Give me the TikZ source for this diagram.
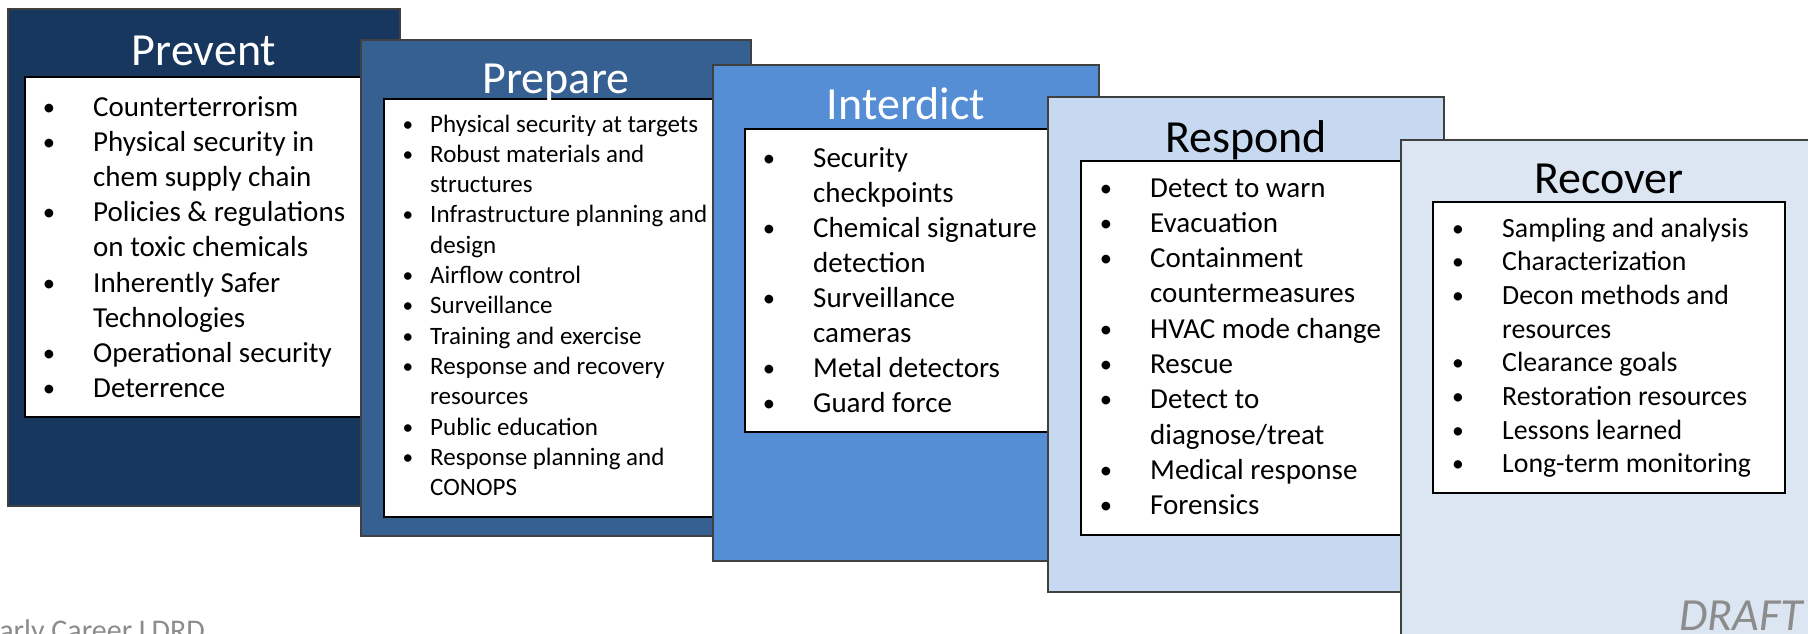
\documentclass[tikz,border=0pt]{standalone}
\usepackage{fontspec}
\setmainfont{Carlito}

% Phase colours
\definecolor{preventfill}{HTML}{17375E}
\definecolor{preparefill}{HTML}{376092}
\definecolor{interdictfill}{HTML}{558ED5}
\definecolor{respondfill}{HTML}{C6D9F1}
\definecolor{recoverfill}{HTML}{DCE6F2}
\definecolor{footgray}{HTML}{8C8C8C}

\tikzset{
  panel/.style={draw=black!75, line width=1.3pt},
  listbox/.style={draw=black, fill=white, line width=2.3pt},
  phase/.style={anchor=base, inner sep=0pt, font=\fontsize{46}{50}\selectfont},
  item/.style={anchor=base west, inner sep=0pt},
  dot/.style={anchor=base, inner sep=0pt, scale=0.85},
}

% #1 name, #2 bullet x, #3 text x, #4 first baseline, #5 line step, #6 font size, #7 lines
\newcommand{\drawitems}[7]{%
  \foreach \b/\t [count=\i from 0] in {#7} {
    \node[item, font=\fontsize{#6}{#6}\selectfont] (#1-\i) at (#3, #4+\i*#5) {\t};
    \ifnum\b>0
      \node[dot, font=\fontsize{#6}{#6}\selectfont] (#1-b\i) at (#2, #4+\i*#5-1) {\textbullet};
    \fi
  }
}

\begin{document}
\begin{tikzpicture}[x=1pt, y=-1pt]
    % Page size of the slide
    \clip (0,0) rectangle (1808,633);

    % Prevent
    \draw[panel, fill=preventfill] (8,9) rectangle (400,506);
    \draw[listbox] (25,77) rectangle (383,417);
    \node[phase, text=white] (prevent) at (204,65) {Prevent};
    \drawitems{prev}{49}{93}{116}{35.2}{29}{
      1/Counterterrorism, 1/Physical security in, 0/chem supply chain,
      1/Policies \& regulations, 0/on toxic chemicals, 1/Inherently Safer,
      0/Technologies, 1/Operational security, 1/Deterrence}

    % Prepare
    \draw[panel, fill=preparefill] (361,40) rectangle (751,536);
    \draw[listbox] (384,99) rectangle (728,517);
    \node[phase, text=white] (prepare) at (556,93) {Prepare};
    \drawitems{prep}{408}{430}{132}{30.3}{25}{
      1/Physical security at targets, 1/Robust materials and, 0/structures,
      1/Infrastructure planning and, 0/design, 1/Airflow control,
      1/Surveillance, 1/Training and exercise, 1/Response and recovery,
      0/resources, 1/Public education, 1/Response planning and, 0/CONOPS}

    % Interdict
    \draw[panel, fill=interdictfill] (713,65) rectangle (1099,561);
    \draw[listbox] (745,129) rectangle (1067,432);
    \node[phase, text=white] (interdict) at (906,119) {Interdict};
    \drawitems{inter}{769}{813}{167}{35.1}{29}{
      1/Security, 0/checkpoints, 1/Chemical signature, 0/detection,
      1/Surveillance, 0/cameras, 1/Metal detectors, 1/Guard force}

    % Respond
    \draw[panel, fill=respondfill] (1048,97) rectangle (1444,592);
    \draw[listbox] (1081,161) rectangle (1411,535);
    \node[phase, text=black] (respond) at (1246,152) {Respond};
    \drawitems{resp}{1106}{1150}{197}{35.3}{29}{
      1/Detect to warn, 1/Evacuation, 1/Containment, 0/countermeasures,
      1/HVAC mode change, 1/Rescue, 1/Detect to, 0/{diagnose/treat},
      1/Medical response, 1/Forensics}

    % Recover
    \draw[panel, fill=recoverfill] (1401,140) rectangle (1817,660);
    \draw[listbox] (1433,202) rectangle (1785,493);
    \node[phase, text=black] (recover) at (1609,193) {Recover};
    \drawitems{reco}{1458}{1502}{237}{33.7}{27.8}{
      1/Sampling and analysis, 1/Characterization, 1/Decon methods and,
      0/resources, 1/Clearance goals, 1/Restoration resources,
      1/Lessons learned, 1/Long-term monitoring}

    % Footer texts
    \node[item, text=footgray, font=\fontsize{30}{30}\selectfont] (footer) at (-15,640) {Early Career LDRD};
    \node[anchor=base east, inner sep=0pt, text=footgray, font=\itshape\fontsize{46}{50}\selectfont] (draft) at (1803,630) {DRAFT};
\end{tikzpicture}
\end{document}
